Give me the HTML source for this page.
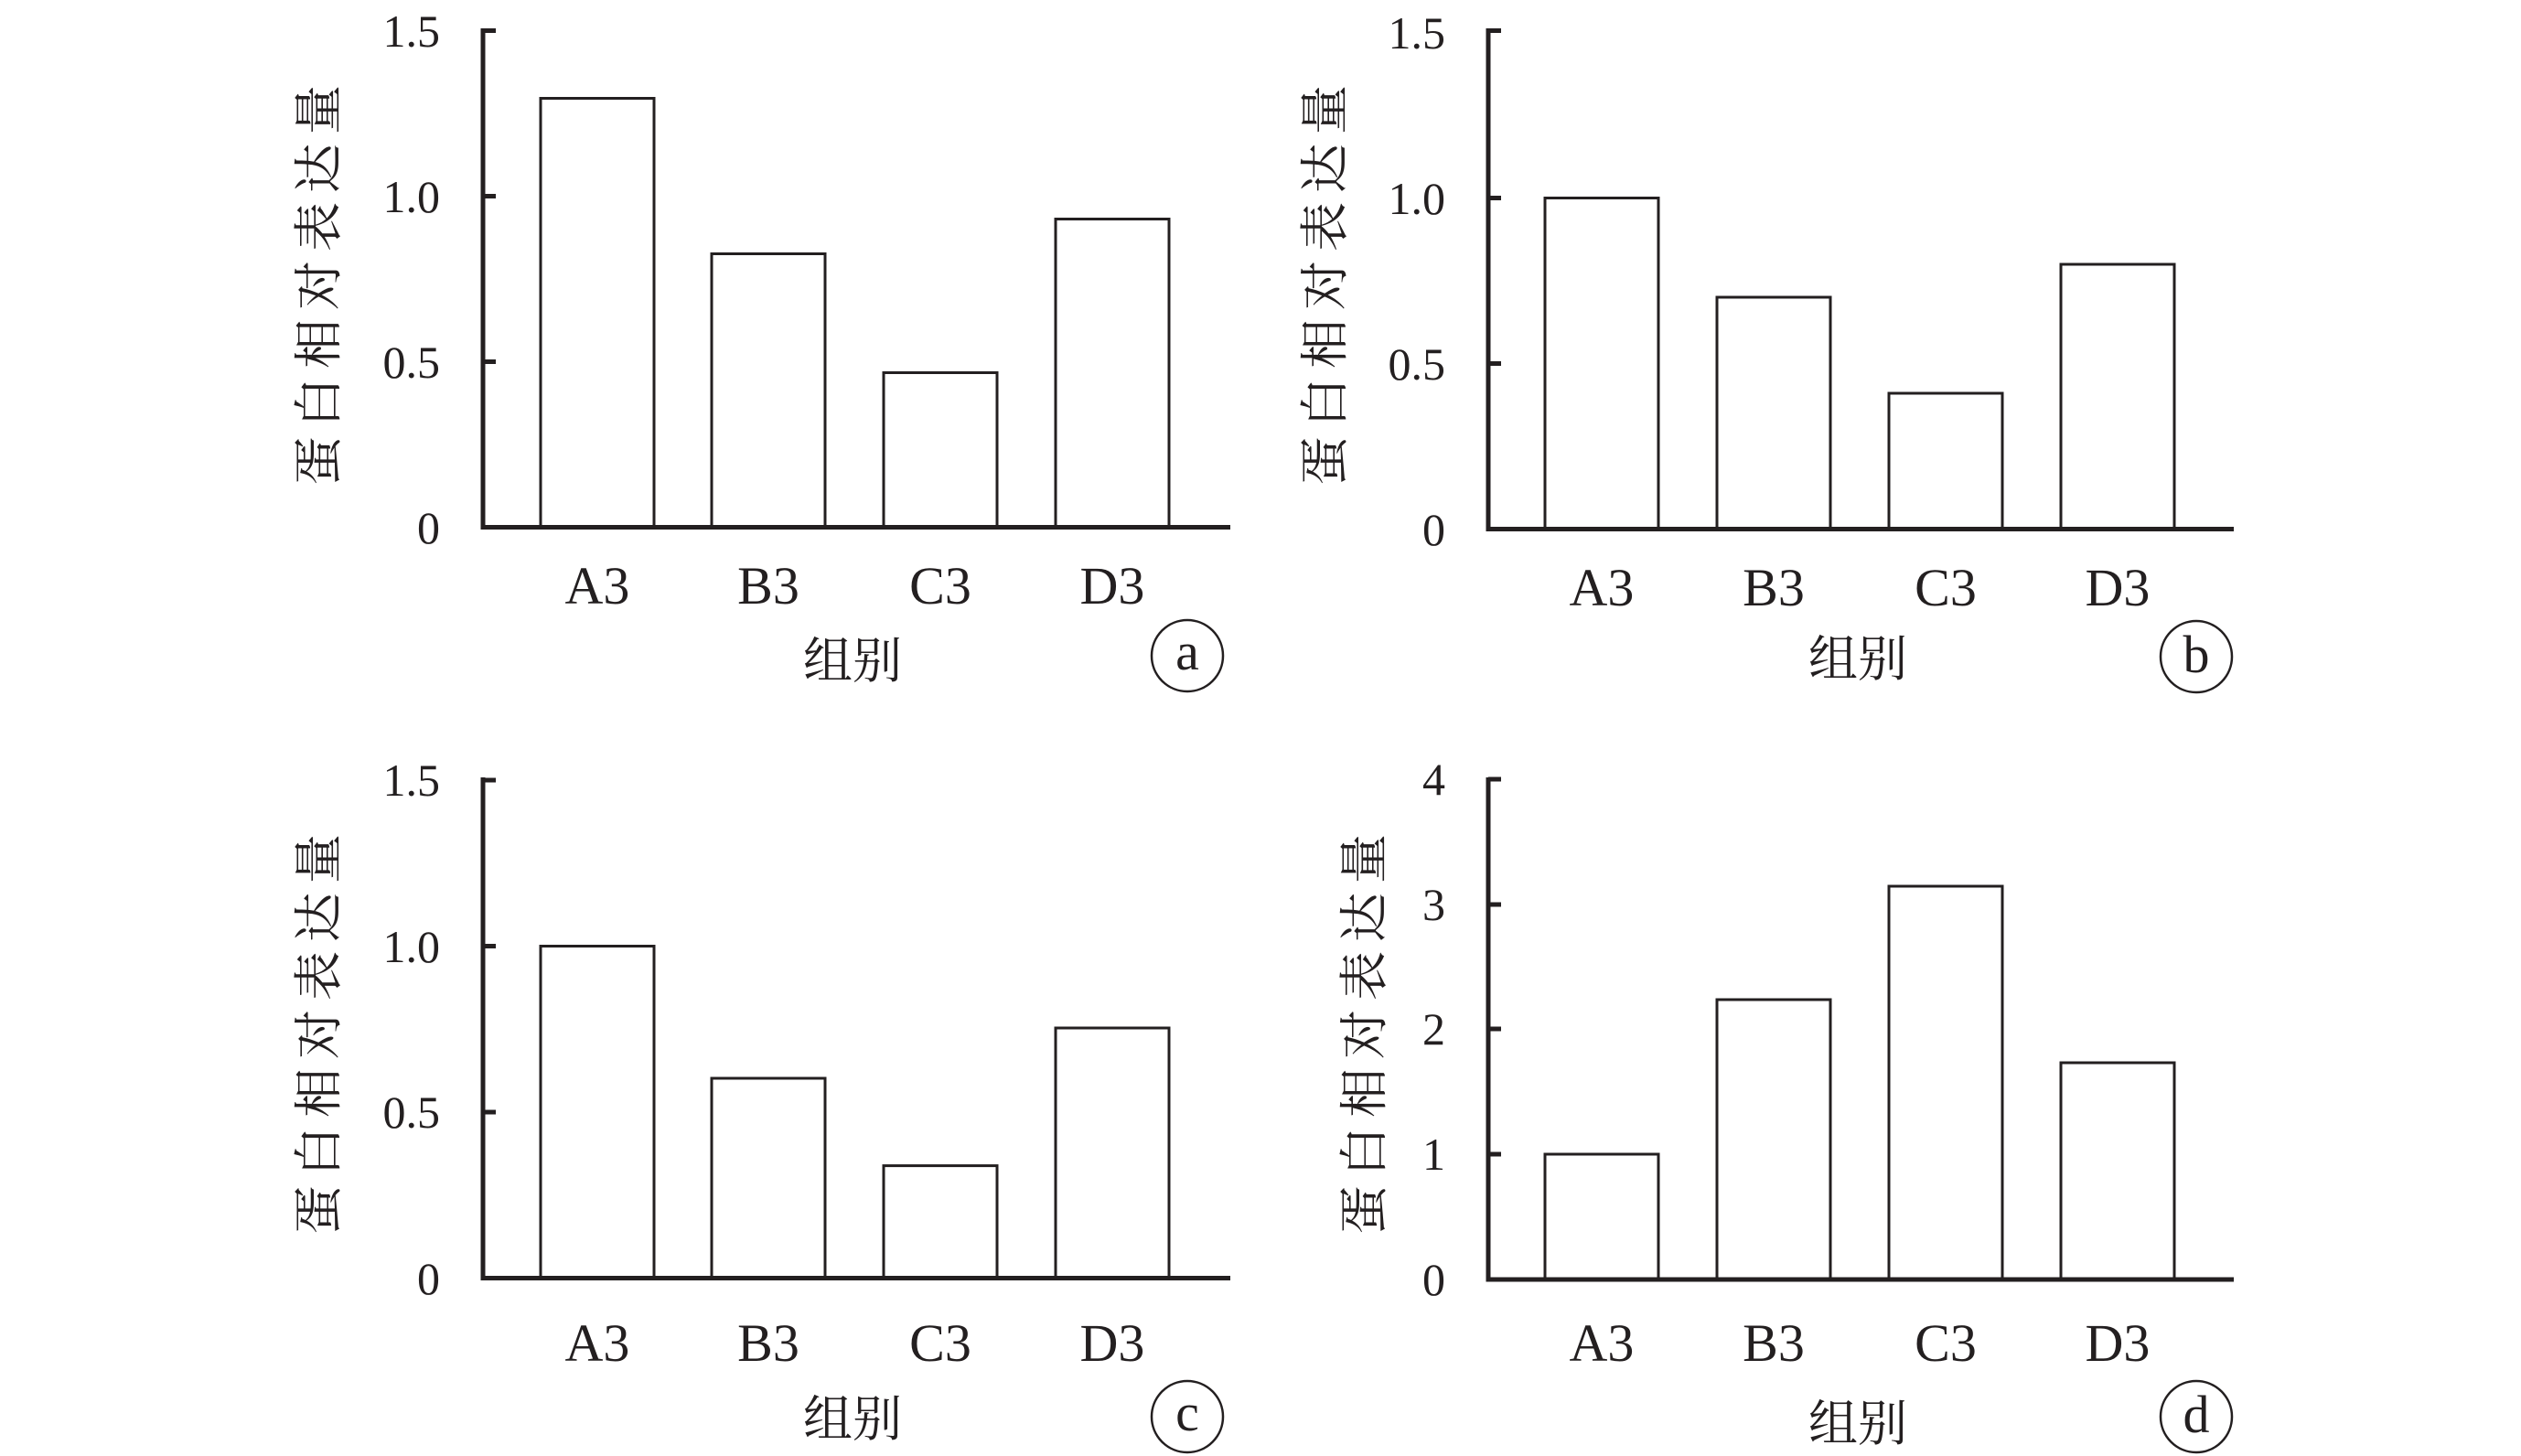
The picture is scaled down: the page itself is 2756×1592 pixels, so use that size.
<!DOCTYPE html>
<html><head><meta charset="utf-8"><style>
html,body{margin:0;padding:0;background:#fff;}
svg{display:block;}
.t{font-family:"Liberation Serif",serif;font-size:50px;fill:#231f20;}
.l{font-family:"Liberation Serif",serif;font-size:58px;fill:#231f20;}
.c{font-family:"Liberation Serif","Noto Serif CJK SC",serif;font-size:54px;fill:#231f20;}
</style></head><body>
<svg width="2756" height="1592" viewBox="0 0 2756 1592" xmlns="http://www.w3.org/2000/svg">
<g stroke="#231f20" fill="#fff">
<g stroke-width="3">
<rect x="591" y="107.5" width="124" height="469"/>
<rect x="778" y="277.5" width="124" height="299"/>
<rect x="966" y="407.5" width="124" height="169"/>
<rect x="1154" y="239.5" width="124" height="337"/>
</g>
<g stroke-width="5" fill="none">
<path d="M528 31V579M526 576.5H1345M528 33.5H542M528 214.5H542M528 395.5H542"/>
</g>
<g stroke-width="3">
<rect x="1689" y="216.5" width="124" height="362"/>
<rect x="1877" y="325" width="124" height="253.5"/>
<rect x="2065" y="430" width="124" height="148.5"/>
<rect x="2253" y="289" width="124" height="289.5"/>
</g>
<g stroke-width="5" fill="none">
<path d="M1627 31V581M1625 578.5H2442M1627 33.5H1641M1627 216.5H1641M1627 397.5H1641"/>
</g>
<g stroke-width="3">
<rect x="591" y="1034.5" width="124" height="363"/>
<rect x="778" y="1179" width="124" height="218.5"/>
<rect x="966" y="1274.6" width="124" height="123"/>
<rect x="1154" y="1124" width="124" height="273.5"/>
</g>
<g stroke-width="5" fill="none">
<path d="M528 850V1400M526 1397.5H1345M528 853H542M528 1034.5H542M528 1216H542"/>
</g>
<g stroke-width="3">
<rect x="1689" y="1262" width="124" height="137"/>
<rect x="1877" y="1093" width="124" height="306"/>
<rect x="2065" y="969" width="124" height="430"/>
<rect x="2253" y="1162" width="124" height="237"/>
</g>
<g stroke-width="5" fill="none">
<path d="M1627 850V1401.5M1625 1399H2442M1627 852H1641M1627 989H1641M1627 1125H1641M1627 1262H1641"/>
</g>
<g stroke-width="2.5" fill="none">
<circle cx="1298" cy="717" r="39"/>
<circle cx="2401" cy="718" r="39"/>
<circle cx="1298" cy="1549" r="39"/>
<circle cx="2401" cy="1549" r="39"/>
</g>
</g>

<g class="t" text-anchor="end">
<text x="481" y="51">1.5</text><text x="481" y="232">1.0</text><text x="481" y="413">0.5</text><text x="481" y="594">0</text>
<text x="1580" y="53">1.5</text><text x="1580" y="234">1.0</text><text x="1580" y="415">0.5</text><text x="1580" y="596">0</text>
<text x="481" y="870">1.5</text><text x="481" y="1052">1.0</text><text x="481" y="1233">0.5</text><text x="481" y="1415">0</text>
<text x="1580" y="869">4</text><text x="1580" y="1006">3</text><text x="1580" y="1142">2</text><text x="1580" y="1279">1</text><text x="1580" y="1416">0</text>
</g>
<g class="l" text-anchor="middle">
<text x="653" y="660">A3</text><text x="840" y="660">B3</text><text x="1028" y="660">C3</text><text x="1216" y="660">D3</text>
<text x="1751" y="662">A3</text><text x="1939" y="662">B3</text><text x="2127" y="662">C3</text><text x="2315" y="662">D3</text>
<text x="653" y="1488">A3</text><text x="840" y="1488">B3</text><text x="1028" y="1488">C3</text><text x="1216" y="1488">D3</text>
<text x="1751" y="1488">A3</text><text x="1939" y="1488">B3</text><text x="2127" y="1488">C3</text><text x="2315" y="1488">D3</text>
<text x="1298" y="732">a</text><text x="2401" y="735">b</text><text x="1298" y="1564">c</text><text x="2401" y="1566">d</text>
</g>
<g class="c" text-anchor="middle">
<text x="932" y="741">组别</text>
<text x="2031" y="739">组别</text>
<text x="932" y="1570">组别</text>
<text x="2031" y="1575">组别</text>
<text transform="translate(349,307) rotate(-90)" dominant-baseline="central" letter-spacing="10">蛋白相对表达量</text>
<text transform="translate(1449,307) rotate(-90)" dominant-baseline="central" letter-spacing="10">蛋白相对表达量</text>
<text transform="translate(349,1126) rotate(-90)" dominant-baseline="central" letter-spacing="10">蛋白相对表达量</text>
<text transform="translate(1492,1126) rotate(-90)" dominant-baseline="central" letter-spacing="10">蛋白相对表达量</text>
</g>
</svg>
</body></html>
